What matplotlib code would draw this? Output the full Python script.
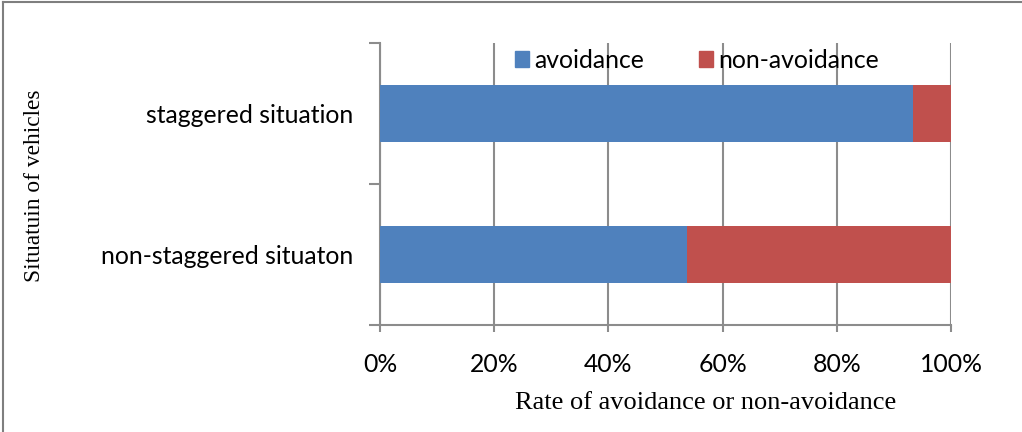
import matplotlib
matplotlib.use("Agg")
import matplotlib.pyplot as plt
from matplotlib.lines import Line2D
from matplotlib.patches import Patch

categories = ["non-staggered situaton", "staggered situation"]
avoidance = [53.8, 93.3]
non_avoidance = [46.2, 6.7]
xticks = [0, 20, 40, 60, 80, 100]
xtick_labels = ["0%", "20%", "40%", "60%", "80%", "100%"]

BLUE = "#4F81BD"
RED = "#C0504D"
GRID = "#8C8C8C"
SANS = "Lato"
SERIF = "Liberation Serif"
FS = 17.8

W, H = 1022, 432
fig = plt.figure(figsize=(W / 100, H / 100), dpi=100)
ax = fig.add_axes([380 / W, 1 - 325 / H, (951 - 380) / W, (325 - 43) / H])

pos = list(range(len(categories)))
ax.barh(pos, avoidance, height=0.4, color=BLUE, zorder=3, label="avoidance")
ax.barh(pos, non_avoidance, left=avoidance, height=0.4, color=RED, zorder=3,
        label="non-avoidance")

ax.set_xlim(0, 100)
ax.set_ylim(-0.5, 1.5)
ax.set_xticks(xticks)
ax.set_xticklabels(xtick_labels, fontfamily=SANS, fontsize=FS)
ax.tick_params(axis="x", length=5, color=GRID, width=1.5, pad=15)

ax.set_yticks([-0.5, 0.5, 1.5])
ax.set_yticklabels([])
ax.set_yticks(pos, minor=True)
ax.set_yticklabels(categories, minor=True, fontfamily=SANS, fontsize=FS)
ax.tick_params(axis="y", which="major", length=8, color=GRID, width=1.5)
ax.tick_params(axis="y", which="minor", length=0, pad=19)

ax.grid(axis="x", color=GRID, linewidth=1.5, zorder=1)
for s in ["top", "right"]:
    ax.spines[s].set_visible(False)
for s in ["left", "bottom"]:
    ax.spines[s].set_color(GRID)
    ax.spines[s].set_linewidth(1.5)

handles = [Patch(color=BLUE), Patch(color=RED)]
leg = ax.legend(handles, ["avoidance", "non-avoidance"], loc="center",
                bbox_to_anchor=(0.555, 1 - (60 - 43) / (325 - 43)), ncol=2,
                frameon=False, prop={"family": SANS, "size": FS},
                handlelength=0.6, handleheight=0.6, handletextpad=0.2,
                columnspacing=2.2, borderpad=0, borderaxespad=0)

fig.text(706 / W, 1 - 403 / H, "Rate of avoidance or non-avoidance",
         fontfamily=SERIF, fontsize=19, ha="center", va="center")
fig.text(35 / W, 1 - 186 / H, "Situatuin of vehicles", fontfamily=SERIF,
         fontsize=16.8, ha="center", va="center", rotation=90)

# outer frame (left and top edges)
fig.add_artist(Line2D([3 / W, 3 / W], [0, 1 - 2 / H], transform=fig.transFigure,
                      color="#7F7F7F", linewidth=1.5))
fig.add_artist(Line2D([3 / W, 1], [1 - 2 / H, 1 - 2 / H], transform=fig.transFigure,
                      color="#7F7F7F", linewidth=1.5))

fig.savefig("out.png", dpi=100)
